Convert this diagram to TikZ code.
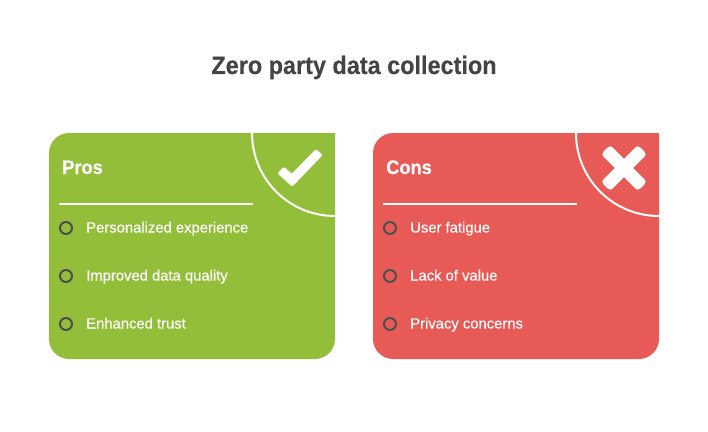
\documentclass[tikz,border=0pt]{standalone}
\usepackage{fontspec}
\setmainfont{Liberation Sans}
\newfontfamily\titlefont[FakeStretch=0.93,FakeBold=0.25]{Liberation Sans Bold}
\newfontfamily\itemfont[FakeBold=0.35]{Liberation Sans}
\definecolor{prosgreen}{HTML}{93BE3A}
\definecolor{consred}{HTML}{E85A55}
\definecolor{inkgrey}{HTML}{444444}
\definecolor{ringgrey}{HTML}{4D4F48}
\tikzset{
  px/.style={x=0.75pt,y=-0.75pt},
  heading/.style={anchor=base west,inner sep=0,text=white,font=\titlefont\fontsize{14.7}{18}\selectfont},
  itemtext/.style={anchor=base west,inner sep=0,text=white,font=\itemfont\fontsize{11.1}{13}\selectfont},
  ring/.style={draw=ringgrey,line width=1.5pt,circle,minimum size=9pt,inner sep=0},
  rule/.style={draw=white,line width=1.5pt},
  glyph/.style={fill=white}
}
\newcommand{\panelshape}{(286,0) -- (20,0) .. controls (9,0) and (0,9) .. (0,20) -- (0,206) .. controls (0,217) and (9,226) .. (20,226) -- (266,226) .. controls (277,226) and (286,217) .. (286,206) -- cycle}
\begin{document}
\begin{tikzpicture}[px]
\useasboundingbox (0,0) rectangle (708,432);
\node[anchor=base,inner sep=0,text=inkgrey,font=\titlefont\fontsize{18.9}{23}\selectfont] (title) at (354,74) {Zero party data collection};

% Pros panel
\fill[prosgreen,shift={(49,133)}] \panelshape;
\draw[rule] (252,133) .. controls (252,179) and (289,216) .. (335,216);
\fill[glyph,rounded corners=1pt] (277.3,173.3) -- (284,166.7) -- (291.7,173.7) -- (316,149) -- (322.7,155) -- (292.3,186.7) -- cycle;
\node[heading] (prosh) at (62,174) {Pros};
\coordinate (prosa) at (59,204); \coordinate (prosb) at (253,204);
\draw[rule] (prosa) -- (prosb);
\node[ring] (p1) at (66,228) {};
\node[ring] (p2) at (66,276) {};
\node[ring] (p3) at (66,324) {};
\node[itemtext] (pt1) at (86,232.5) {Personalized experience};
\node[itemtext] (pt2) at (86,280.5) {Improved data quality};
\node[itemtext] (pt3) at (86,328.5) {Enhanced trust};

% Cons panel
\fill[consred,shift={(373,133)}] \panelshape;
\draw[rule] (576,133) .. controls (576,179) and (613,216) .. (659,216);
\begin{scope}[shift={(624,168)},rotate=45]
  \fill[glyph,rounded corners=2.5pt] (-26,-6.5) rectangle (26,6.5);
  \fill[glyph,rounded corners=2.5pt] (-6.5,-26) rectangle (6.5,26);
\end{scope}
\node[heading] (consh) at (386,174) {Cons};
\coordinate (consa) at (383,204); \coordinate (consb) at (577,204);
\draw[rule] (consa) -- (consb);
\node[ring] (c1) at (390,228) {};
\node[ring] (c2) at (390,276) {};
\node[ring] (c3) at (390,324) {};
\node[itemtext] (ct1) at (410,232.5) {User fatigue};
\node[itemtext] (ct2) at (410,280.5) {Lack of value};
\node[itemtext] (ct3) at (410,328.5) {Privacy concerns};
\end{tikzpicture}
\end{document}
